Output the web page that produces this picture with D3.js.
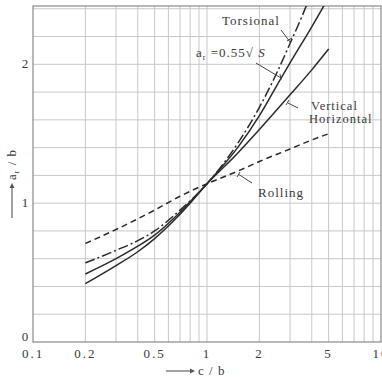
<!DOCTYPE html>
<html lang="en">
	<head>
		<meta charset="utf-8">
		<title>a_r / b versus c / b</title>
		<script type="text/javascript" src="https://cdn.jsdelivr.net/npm/d3@7"></script>
		<style>
			body { margin: 0; background: #fff; }
			svg { display: block; }
			text { font-family: "Liberation Serif", "DejaVu Serif", serif; fill: #3a3a3a; }
			.grid line { stroke: #c8c8c8; stroke-width: 1; }
			.frame { fill: none; stroke: #8a8a8a; stroke-width: 1.2; }
			.curve { fill: none; stroke: #2a2a2a; stroke-width: 1.5; }
			.leader { stroke: #444; stroke-width: 1; fill: none; }
		</style>
	</head>
	<body>
		<div id="vis"></div>

		<script type="text/javascript">
			// values: [c/b, a_r/b]
			var rolling = [[0.2, 0.71], [0.3, 0.81], [0.5, 0.95], [0.7, 1.05], [1, 1.14], [1.5, 1.23], [2, 1.30], [3, 1.39], [4, 1.455], [5, 1.50]];
			var torsional = [[0.2, 0.57], [0.3, 0.66], [0.4, 0.73], [0.5, 0.80], [0.7, 0.95], [1, 1.14], [1.5, 1.43], [2, 1.69], [2.5, 1.93], [3, 2.15], [3.5, 2.34], [4, 2.52]];
			var sqrtS = [[0.2, 0.42], [0.3, 0.55], [0.4, 0.65], [0.5, 0.745], [0.7, 0.92], [1, 1.14], [1.5, 1.40], [2, 1.63], [2.5, 1.84], [3, 2.01], [4, 2.27], [5, 2.48]];
			var vertHoriz = [[0.2, 0.49], [0.3, 0.60], [0.4, 0.69], [0.5, 0.77], [0.7, 0.935], [1, 1.14], [1.5, 1.36], [2, 1.53], [3, 1.78], [4, 1.96], [5, 2.11]];

			var xTicks = [0.1, 0.2, 0.5, 1, 2, 5, 10];
			var xGrid = [0.2, 0.3, 0.4, 0.5, 0.6, 0.7, 0.8, 0.9, 1, 2, 3, 4, 5, 6, 7, 8, 9];
			var yTicks = [0, 1, 2];
			var yGrid = [0.2, 0.4, 0.6, 0.8, 1, 1.2, 1.4, 1.6, 1.8, 2, 2.2, 2.4];

			var W = 382, H = 377;
			var pLeft = 33, pRight = 381, pTop = 6, pBottom = 342;

			var x = d3.scaleLog().domain([0.1, 10]).range([pLeft, pRight]);
			var y = d3.scaleLinear().domain([0, 2.42]).range([pBottom, pTop]);

			var svg = d3.select("#vis").append("svg").attr("width", W).attr("height", H);

			svg.append("defs").append("clipPath").attr("id", "plot")
				.append("rect").attr("x", pLeft).attr("y", pTop)
				.attr("width", pRight - pLeft).attr("height", pBottom - pTop);

			// grid
			var grid = svg.append("g").attr("class", "grid");
			grid.selectAll("line.v").data(xGrid).enter().append("line").attr("class", "v")
				.attr("x1", function(d) { return x(d); }).attr("x2", function(d) { return x(d); })
				.attr("y1", pTop).attr("y2", pBottom);
			grid.selectAll("line.h").data(yGrid).enter().append("line").attr("class", "h")
				.attr("x1", pLeft).attr("x2", pRight)
				.attr("y1", function(d) { return y(d); }).attr("y2", function(d) { return y(d); });

			svg.append("rect").attr("class", "frame")
				.attr("x", pLeft).attr("y", pTop)
				.attr("width", pRight - pLeft).attr("height", pBottom - pTop);

			// tick labels
			svg.selectAll("text.xt").data(xTicks).enter().append("text").attr("class", "xt")
				.attr("x", function(d) { return x(d); })
				.attr("y", 358)
				.attr("text-anchor", "middle")
				.style("font-size", "13px")
				.style("letter-spacing", "2px")
				.text(function(d) { return d; });

			svg.selectAll("text.yt").data(yTicks).enter().append("text").attr("class", "yt")
				.attr("x", 25)
				.attr("y", function(d) { return d === 0 ? y(d) - 1 : y(d) + 4; })
				.attr("text-anchor", "middle")
				.style("font-size", "13px")
				.text(function(d) { return d; });

			// axis titles
			svg.append("line").attr("class", "leader").attr("x1", 166).attr("x2", 190).attr("y1", 371).attr("y2", 371);
			svg.append("path").attr("d", "M190,368.5 L195,371 L190,373.5 Z").attr("fill", "#555");
			svg.append("text").attr("x", 198).attr("y", 375).style("font-size", "13px")
				.style("letter-spacing", "1px").text("c / b");

			var yl = svg.append("g").attr("transform", "translate(12,0) rotate(-90)");
			yl.append("line").attr("class", "leader").attr("x1", -218).attr("x2", -188).attr("y1", 0).attr("y2", 0);
			yl.append("path").attr("d", "M-188,-2.5 L-183,0 L-188,2.5 Z").attr("fill", "#555");
			var yt = yl.append("text").attr("x", -180).attr("y", 4).style("font-size", "13px").style("letter-spacing", "1px");
			yt.append("tspan").text("a");
			yt.append("tspan").attr("dy", 3).style("font-size", "8px").text("r");
			yt.append("tspan").attr("dy", -3).text(" / b");

			// curves
			var line = d3.line()
				.x(function(d) { return x(d[0]); })
				.y(function(d) { return y(d[1]); })
				.curve(d3.curveMonotoneX);

			var curves = svg.append("g").attr("clip-path", "url(#plot)");
			curves.append("path").attr("class", "curve").attr("d", line(rolling)).attr("stroke-dasharray", "6,4");
			curves.append("path").attr("class", "curve").attr("d", line(torsional)).attr("stroke-dasharray", "10,3,2,3");
			curves.append("path").attr("class", "curve").attr("d", line(sqrtS));
			curves.append("path").attr("class", "curve").attr("d", line(vertHoriz));

			// labels and leaders
			svg.append("text").attr("x", 222).attr("y", 25).style("font-size", "13px").style("letter-spacing", "1px").text("Torsional");
			svg.append("path").attr("class", "leader").attr("d", "M281,30 L290,42 M287,41 L292,38");

			var ar = svg.append("text").attr("x", 196).attr("y", 57).style("font-size", "13px").style("letter-spacing", "1px");
			ar.append("tspan").text("a");
			ar.append("tspan").attr("dy", 3).style("font-size", "8px").text("r");
			ar.append("tspan").attr("dy", -3).text(" =0.55\u221A ");
			ar.append("tspan").style("font-style", "italic").text("S");
			svg.append("path").attr("class", "leader").attr("d", "M256,63 L281,78 M280,74 L281,80");

			svg.append("text").attr("x", 311).attr("y", 110).style("font-size", "12.5px").style("letter-spacing", "1px").text("Vertical");
			svg.append("text").attr("x", 309).attr("y", 123).style("font-size", "12.5px").style("letter-spacing", "1px").text("Horizontal");
			svg.append("path").attr("class", "leader").attr("d", "M298,108 L288,103 M289,100 L286,105");

			svg.append("text").attr("x", 258).attr("y", 197).style("font-size", "13px").style("letter-spacing", "1px").text("Rolling");
			svg.append("path").attr("class", "leader").attr("d", "M238,174 L252,183 M237,177 L240,172");
		</script>
	</body>
</html>
